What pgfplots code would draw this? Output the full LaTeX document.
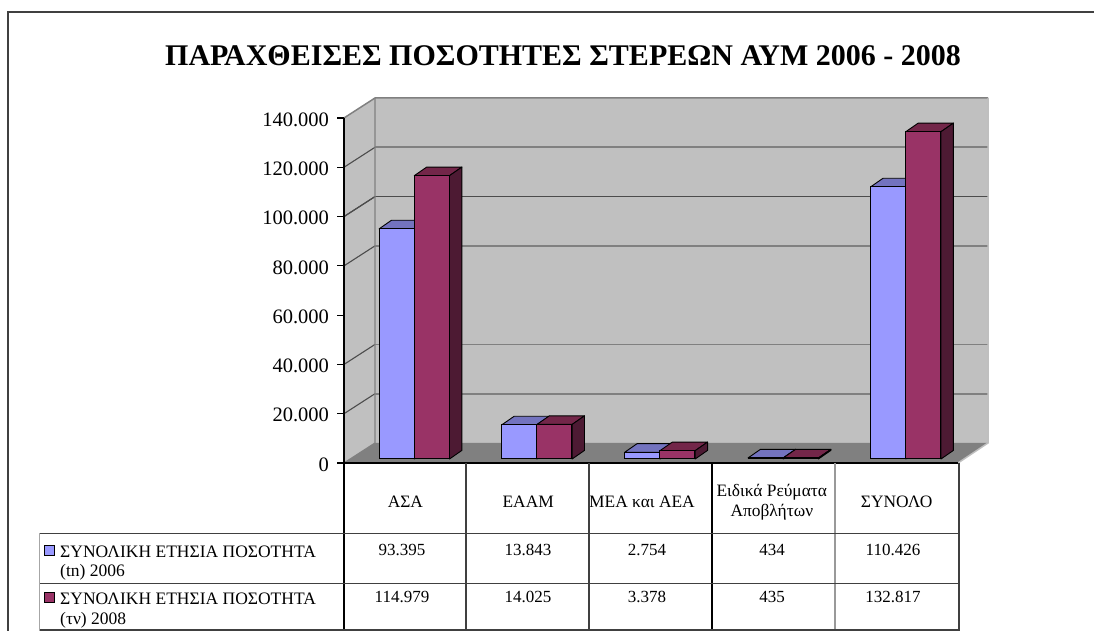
\documentclass[border=0pt]{standalone}
\usepackage{pgfplots}
\pgfplotsset{compat=1.18}
\usepackage{pgfplotstable}
\usepackage{fontspec}
\setmainfont{Liberation Serif}
\definecolor{wall}{HTML}{C0C0C0}
\definecolor{floorc}{HTML}{808080}
\definecolor{gline}{HTML}{808080}
\definecolor{blueF}{HTML}{9999FF}
\definecolor{blueT}{HTML}{7373BF}
\definecolor{blueS}{HTML}{4D4D80}
\definecolor{marF}{HTML}{993366}
\definecolor{marT}{HTML}{732649}
\definecolor{marS}{HTML}{4D1A33}
\definecolor{frame}{HTML}{404040}
\pgfplotstableread{
x a b
0.5725 93395 114979
1.571 13843 14025
2.573 2754 3378
3.577 434 435
4.575 110426 132817
}\datatable
% one bar's top and side faces: left x, right x, value, colours
\newcommand{\depth}[5]{%
  \pgfmathsetmacro{\xr}{#2+0.101}\pgfmathsetmacro{\xl}{#1+0.101}%
  \edef\ya{\the\numexpr#3+1623\relax}\edef\yb{\the\numexpr#3+5113\relax}%
  \addplot[fill=#4,draw=black,line width=0.9pt,line join=round] coordinates {(#1,\ya)(#2,\ya)(\xr,\yb)(\xl,\yb)} --cycle;
  \addplot[fill=#5,draw=black,line width=0.9pt,line join=round] coordinates {(#2,1623)(\xr,5113)(\xr,\yb)(#2,\ya)} --cycle;
}
\begin{document}
\begin{tikzpicture}
\useasboundingbox (0,0) rectangle (1094pt,631pt);
\begin{scope}[x=1pt,y=-1pt,shift={(0pt,631pt)}]
  % frame
  \draw[frame,line width=1.3pt] (8,631)--(8,12)--(1094,12);
  \node[font=\fontsize{30}{34}\selectfont\bfseries,anchor=center] at (563,56) {ΠΑΡΑΧΘΕΙΣΕΣ ΠΟΣΟΤΗΤΕΣ ΣΤΕΡΕΩΝ ΑΥΜ 2006 - 2008};
  % walls
  \fill[wall] (375,98) rectangle (988,443);
  \fill[wall] (344,463)--(375,443)--(375,98)--(344,118)--cycle;
  \fill[floorc] (344,463)--(958,463)--(988,443)--(375,443)--cycle;
  \foreach \k in {1,2,4,5,6}{
    \pgfmathsetmacro{\yy}{443-49.286*\k}
    \draw[gline,line width=1.6pt] (375,\yy)--(988,\yy);
    \draw[black!70,line width=1.1pt] (344,\yy+20)--(375,\yy);
  }
  \draw[black!70,line width=1.5pt] (375,196.6)--(988,196.6);
  \draw[black!70,line width=1.1pt] (344,216.6)--(375,196.6);
  \draw[gline,line width=1.5pt] (344,118)--(375,98)--(988,98);
  \draw[black!25,line width=1.5pt] (988,98)--(988,443)--(958,463);
  \draw[gline,line width=1.2pt] (375,98)--(375,443)--(344,463);
\end{scope}
\begin{axis}[
  at={(344pt,168pt)},anchor=south west,
  scale only axis,width=614pt,height=345pt,
  xmin=0,xmax=5,ymin=0,ymax=140000,clip=false,
  axis x line*=bottom,axis y line*=left,
  axis line style={black,line width=1.2pt},
  xtick={0.5,1.5,2.5,3.5,4.5},
  xticklabels={ΑΣΑ,ΕΑΑΜ,\kern-18pt ΜΕΑ και ΑΕΑ,{\kern-4pt Ειδικά Ρεύματα\\\kern-4pt Αποβλήτων},ΣΥΝΟΛΟ},
  xticklabel style={font=\fontsize{17.4}{20.5}\selectfont,align=center,anchor=center,yshift=-32pt},
  x tick style={draw=none},
  ytick={0,20000,40000,60000,80000,100000,120000,140000},
  yticklabels={0,20.000,40.000,60.000,80.000,100.000,120.000,140.000},
  tick align=outside,major tick length=7pt,
  y tick style={black,line width=1.2pt},
  yticklabel style={font=\fontsize{20.5}{24}\selectfont,xshift=-4.5pt,yshift=-1.5pt},
  scaled y ticks=false,
  ymajorgrids=false,
]
\depth{0.2859}{0.5725}{93395}{blueT}{blueS}
\depth{1.2844}{1.571}{13843}{blueT}{blueS}
\depth{2.2864}{2.573}{2754}{blueT}{blueS}
\depth{3.2904}{3.577}{434}{blueT}{blueS}
\depth{4.2884}{4.575}{110426}{blueT}{blueS}
\addplot[ybar,bar width=35pt,bar shift=-17.5pt,yshift=4pt,fill=blueF,draw=black,line width=1pt] table[x=x,y=a]{\datatable};
\depth{0.5725}{0.8591}{114979}{marT}{marS}
\depth{1.571}{1.8576}{14025}{marT}{marS}
\depth{2.573}{2.8596}{3378}{marT}{marS}
\depth{3.577}{3.8636}{435}{marT}{marS}
\depth{4.575}{4.8616}{132817}{marT}{marS}
\addplot[ybar,bar width=35pt,bar shift=17.5pt,yshift=4pt,fill=marF,draw=black,line width=1pt] table[x=x,y=b]{\datatable};
\end{axis}
\begin{scope}[x=1pt,y=-1pt,shift={(0pt,631pt)}]
  % table rules
  \draw[black,line width=1.1pt] (344,463)--(344,631);
  \draw[frame,line width=1.1pt] (466,463)--(466,631);
  \draw[frame,line width=1.1pt] (589,463)--(589,631);
  \draw[black,line width=1.1pt] (712,463)--(712,631);
  \draw[black!40,line width=1.6pt] (835,463)--(835,631);
  \draw[frame,line width=1.1pt] (959,463)--(959,631);
  \draw[frame,line width=1.3pt] (39,533.5)--(959,533.5);
  \draw[frame,line width=1.1pt] (39,583.5)--(959,583.5);
  \draw[frame,line width=1.1pt] (39,630)--(959,630);
  \draw[black!35,line width=1.2pt] (39.5,533.5)--(39.5,631);
  % legend keys and row heads
  \draw[black,line width=1pt,fill=blueF] (44,546)rectangle(54,556);
  \draw[black,line width=1pt,fill=marF] (44,593)rectangle(54,603);
  \tikzset{rowh/.style={font=\fontsize{17.5}{21}\selectfont,anchor=west,inner sep=0pt},
           cell/.style={font=\fontsize{17}{21}\selectfont,anchor=center,inner sep=0pt}}
  \node[rowh] at (60,552) {ΣΥΝΟΛΙΚΗ ΕΤΗΣΙΑ ΠΟΣΟΤΗΤΑ};
  \node[rowh] at (60,572) {(tn) 2006};
  \node[rowh] at (60,599) {ΣΥΝΟΛΙΚΗ ΕΤΗΣΙΑ ΠΟΣΟΤΗΤΑ};
  \node[rowh] at (60,620) {(τν) 2008};
  \node[cell] at (402,550) {93.395};
  \node[cell] at (528,550) {13.843};
  \node[cell] at (647,550) {2.754};
  \node[cell] at (772,550) {434};
  \node[cell] at (893,550) {110.426};
  \node[cell] at (402,597) {114.979};
  \node[cell] at (528,597) {14.025};
  \node[cell] at (647,597) {3.378};
  \node[cell] at (772,597) {435};
  \node[cell] at (893,597) {132.817};
\end{scope}
\end{tikzpicture}
\end{document}
